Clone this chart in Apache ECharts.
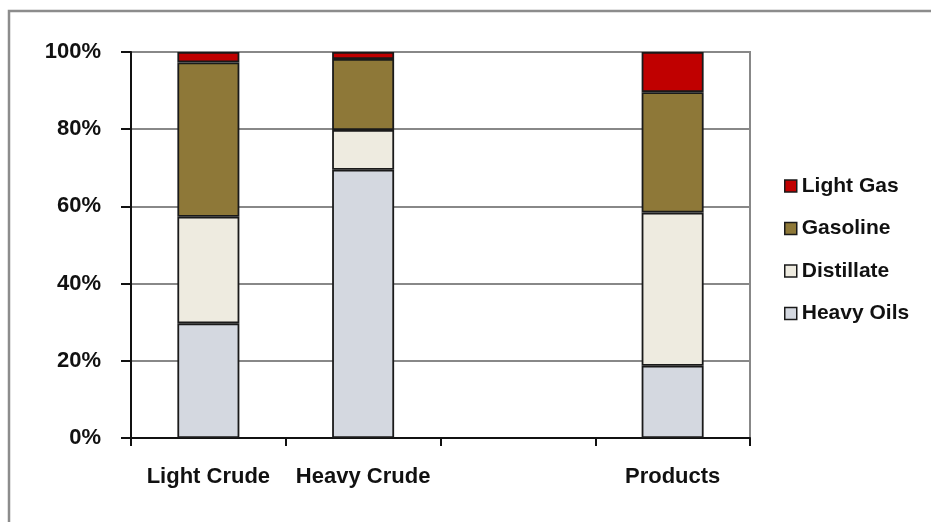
<!DOCTYPE html>
<html>
<head>
<meta charset="utf-8">
<script src="https://cdn.jsdelivr.net/npm/echarts@6/dist/echarts.min.js"></script>
<style>
  html, body { margin: 0; padding: 0; background: #fff; }
  #chart { width: 931px; height: 522px; }
</style>
</head>
<body>
<div id="chart"></div>
<script>
// categories (third slot is an empty gap on the axis)
const categories = ['Light Crude', 'Heavy Crude', '', 'Products'];
const heavyOils = [29.7, 69.5, null, 18.7];
const distillate = [27.6, 10.3, null, 39.7];
const gasoline = [40.0, 18.4, null, 31.2];
const lightGas = [2.7, 1.8, null, 10.4];
const yTicks = [0, 20, 40, 60, 80, 100];

const font = '"Liberation Sans", Arial, sans-serif';
const edge = '#1a1a1a';

function bar(name, data, color) {
  return {
    name: name,
    type: 'bar',
    stack: 'total',
    barWidth: 62,
    data: data,
    itemStyle: { color: color, borderColor: edge, borderWidth: 1.8 }
  };
}

const chart = echarts.init(document.getElementById('chart'));
chart.setOption({
  animation: false,
  backgroundColor: '#fff',
  textStyle: { fontFamily: font },
  graphic: [{
    type: 'rect',
    shape: { x: 9, y: 11, width: 1000, height: 600 },
    style: { fill: 'none', stroke: '#8c8c8c', lineWidth: 2.5 },
    silent: true
  }],
  grid: {
    left: 131, right: 181, top: 52, bottom: 84,
    show: true, borderColor: '#888', borderWidth: 2
  },
  legend: {
    orient: 'vertical',
    left: 779, top: 169,
    itemWidth: 12, itemHeight: 12, itemGap: 18.5,
    icon: 'rect',
    data: ['Light Gas', 'Gasoline', 'Distillate', 'Heavy Oils'],
    itemStyle: { borderColor: edge, borderWidth: 1.5 },
    textStyle: {
      fontFamily: font, fontWeight: 'bold', fontSize: 21,
      color: '#111', lineHeight: 24
    }
  },
  xAxis: {
    type: 'category',
    data: categories,
    axisLine: { lineStyle: { color: '#111', width: 2 } },
    axisTick: { show: true, length: 8, lineStyle: { color: '#111', width: 2 } },
    axisLabel: {
      interval: 0, margin: 28,
      fontFamily: font, fontWeight: 'bold', fontSize: 22, color: '#111'
    },
    splitLine: { show: false }
  },
  yAxis: {
    type: 'value',
    min: yTicks[0], max: yTicks[yTicks.length - 1], interval: 20,
    axisLine: { show: true, lineStyle: { color: '#111', width: 2 } },
    axisTick: { show: true, length: 10, lineStyle: { color: '#111', width: 2 } },
    axisLabel: {
      margin: 30, formatter: '{value}%',
      fontFamily: font, fontWeight: 'bold', fontSize: 22, color: '#111'
    },
    splitLine: { lineStyle: { color: '#888', width: 2 } }
  },
  series: [
    bar('Heavy Oils', heavyOils, '#d4d8e0'),
    bar('Distillate', distillate, '#eeebe0'),
    bar('Gasoline', gasoline, '#8e7838'),
    bar('Light Gas', lightGas, '#c00000')
  ]
});
</script>
</body>
</html>
